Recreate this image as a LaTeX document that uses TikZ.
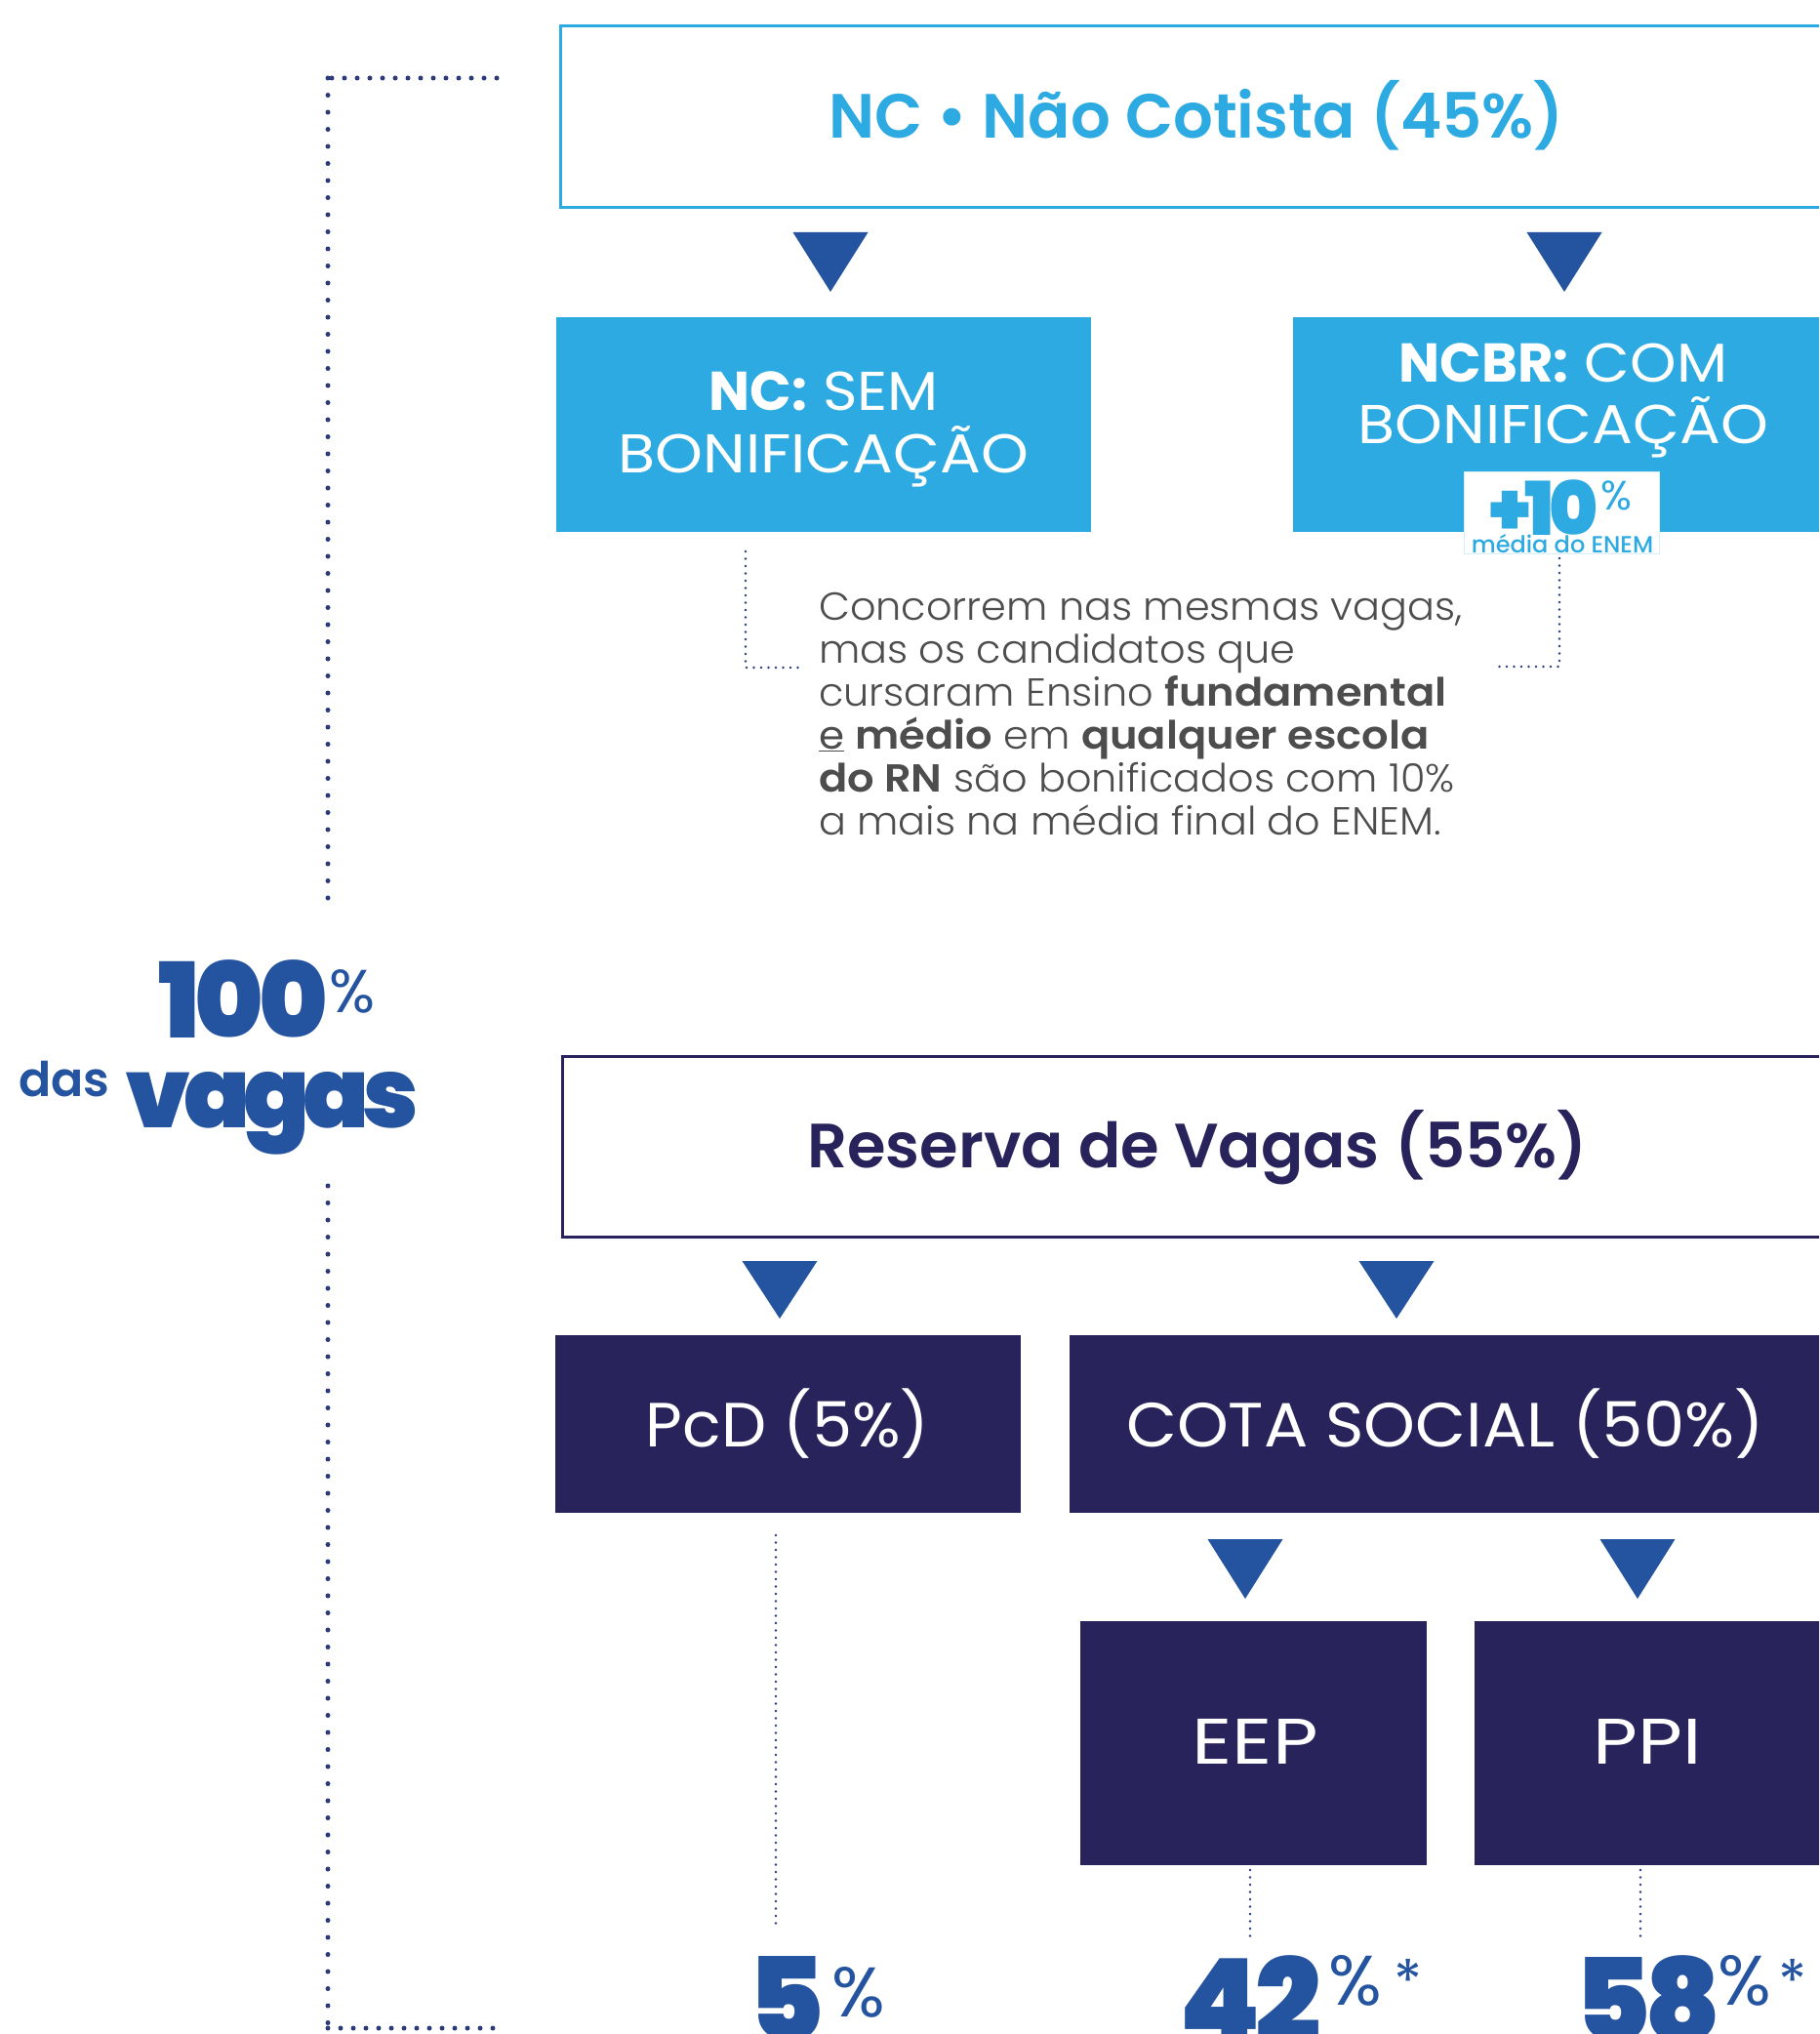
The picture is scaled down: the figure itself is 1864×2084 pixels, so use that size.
\documentclass[tikz,border=0pt]{standalone}
\usepackage{fontspec}
\newcommand\mkfont[2]{\IfFontExistsTF{#2}{\newfontfamily#1{#2}}{\newfontfamily#1{Poppins}}}
\mkfont\fLight{Poppins Light}
\mkfont\fReg{Poppins}
\mkfont\fMed{Poppins Medium}
\mkfont\fSemi{Poppins SemiBold}
\mkfont\fBold{Poppins Bold}
\mkfont\fBlack{Poppins Black}
\setmainfont{Poppins}
\definecolor{cyanc}{HTML}{2DAAE1}
\definecolor{navyc}{HTML}{29235C}
\definecolor{blueN}{HTML}{2453A0}
\definecolor{dotc}{HTML}{2B3A78}
\definecolor{grayt}{HTML}{4D4D4D}
\newcommand\downtri[3]{\fill[blueN] (#1-38.5,#2) -- (#1+38.5,#2) -- (#1,#3) -- cycle;}
\newcommand\tight[2]{{\addfontfeature{LetterSpace=#1}#2}}
\newcommand\wide[2]{{\addfontfeature{FakeStretch=#1}#2}}
\newcommand\pb[1]{{\fSemi\addfontfeature{FakeStretch=1.08}#1}}
\tikzset{
 boxline/.style={line width=3pt, inner sep=0pt, outer sep=0pt, anchor=north west},
 boxfill/.style={inner sep=0pt, outer sep=0pt, anchor=north west},
 bigdotsv/.style={draw=dotc, line width=5pt, line cap=round, dash pattern=on 0pt off 17.5pt},
 bigdotsh/.style={draw=dotc, line width=5pt, line cap=round, dash pattern=on 0pt off 13pt},
 smalldots/.style={draw=dotc, line width=2.8pt, line cap=round, dash pattern=on 0pt off 7.5pt},
 lbl/.style={anchor=base, inner sep=0pt},
 para/.style={anchor=base west, inner sep=0pt, text=grayt, font=\fLight\fontsize{40}{44}\selectfont\addfontfeature{FakeStretch=1.035}},
 bignum/.style={anchor=north west, inner sep=0pt, text=blueN},
}
\begin{document}
\begin{tikzpicture}[x=1pt,y=-1pt]
\useasboundingbox (0,0) rectangle (1864,2084);
\clip (0,0) rectangle (1864,2084);
\fill[white] (0,0) rectangle (1864,2084);

% ---------- NC part
\node[boxline, draw=cyanc, minimum width=1306pt, minimum height=186pt] (nc) at (574,27) {};
\node[lbl, text=cyanc, font=\fSemi\fontsize{64}{70}\selectfont] (nctitle) at (1226,142) {NC • Não Cotista (45\%)};

\downtri{851}{238}{299}
\downtri{1603}{238}{299}

\node[boxfill, fill=cyanc, minimum width=548pt, minimum height=220pt] (sem) at (570,325) {};
\node[boxfill, fill=cyanc, minimum width=560pt, minimum height=220pt] (com) at (1325,325) {};
\node[lbl, text=white, font=\fReg\fontsize{56}{60}\selectfont] (semA) at (844,420) {\wide{1.08}{{\fBold NC:} SEM}};
\node[lbl, text=white, font=\fReg\fontsize{56}{60}\selectfont] (semB) at (844,484) {\wide{1.11}{BONIFICAÇÃO}};
\node[lbl, text=white, font=\fReg\fontsize{56}{60}\selectfont] (comA) at (1602,391) {\wide{1.08}{{\fBold NCBR:} COM}};
\node[lbl, text=white, font=\fReg\fontsize{56}{60}\selectfont] (comB) at (1602,454) {\wide{1.11}{BONIFICAÇÃO}};

\node[boxfill, fill=white, draw=white!80!cyanc, line width=1pt, minimum width=200pt, minimum height=84pt] (bonus) at (1500,483) {};
\node[bignum, text=cyanc, font=\fBlack\fontsize{76}{76}\selectfont] (plus10) at (1526,492) {\tight{-7}{+10}};
\node[bignum, text=cyanc, font=\fReg\fontsize{42}{42}\selectfont] (plus10p) at (1640,493) {\%};
\node[lbl, text=cyanc, font=\fMed\fontsize{24}{24}\selectfont] (media) at (1601,566) {média do ENEM};

% paragraph
\node[para] (p1) at (839,635) {Concorrem nas mesmas vagas,};
\node[para] (p2) at (839,679) {mas os candidatos que};
\node[para] (p3) at (839,723) {cursaram Ensino \pb{fundamental}};
\node[para] (p4) at (839,767) {{\fReg\addfontfeature{FakeStretch=1.05}\underline{e}} \pb{médio} em \pb{qualquer escola}};
\node[para] (p5) at (839,811) {\pb{do RN} são bonificados com 10\%};
\node[para] (p6) at (839,855) {a mais na média final do ENEM.};

\coordinate (sl1) at (764,565);
\coordinate (sl2) at (764,684);
\coordinate (sl3) at (824,684);
\draw[smalldots] (sl1) -- (sl2) -- (sl3);
\coordinate (sr1) at (1598,572);
\coordinate (sr2) at (1598,683);
\coordinate (sr3) at (1534,683);
\draw[smalldots] (sr1) -- (sr2) -- (sr3);

% ---------- left bracket
\node[bignum, font=\fBlack\fontsize{107}{107}\selectfont] (hundred) at (162,983) {\tight{-5}{100}};
\node[bignum, font=\fReg\fontsize{62}{62}\selectfont] (hundredp) at (337,993) {\%};
\node[anchor=base west, inner sep=0pt, text=blueN, font=\fSemi\fontsize{49}{49}\selectfont] (das) at (19,1123) {das};
\node[anchor=base west, inner sep=0pt, text=blueN, font=\fBlack\fontsize{100}{100}\selectfont] (vagas) at (128,1155) {\tight{-7}{vagas}};

\coordinate (bt1) at (509,80);
\coordinate (bt2) at (336,80);
\coordinate (bt3) at (336,925);
\draw[bigdotsh] (bt1) -- (bt2);
\draw[bigdotsv] (bt2) -- (bt3);
\coordinate (bb1) at (336,1215);
\coordinate (bb2) at (336,2078);
\coordinate (bb3) at (516,2078);
\draw[bigdotsv] (bb1) -- (bb2);
\draw[bigdotsh] (bb2) -- (bb3);

% ---------- Reserva part
\node[boxline, draw=navyc, minimum width=1304pt, minimum height=185pt] (res) at (576,1082) {};
\node[lbl, text=navyc, font=\fSemi\fontsize{64}{70}\selectfont] (restitle) at (1227,1196) {Reserva de Vagas (55\%)};

\downtri{799}{1292}{1351}
\downtri{1431}{1292}{1351}

\node[boxfill, fill=navyc, minimum width=477pt, minimum height=182pt] (pcd) at (569,1368) {};
\node[boxfill, fill=navyc, minimum width=784pt, minimum height=182pt] (cota) at (1096,1368) {};
\node[lbl, text=white, font=\fReg\fontsize{64}{66}\selectfont] (pcdt) at (807,1482) {\wide{1.02}{PcD (5\%)}};
\node[lbl, text=white, font=\fReg\fontsize{64}{66}\selectfont] (cotat) at (1481,1482) {\wide{1.05}{COTA SOCIAL (50\%)}};

\downtri{1276}{1577}{1638}
\downtri{1678}{1577}{1638}

\node[boxfill, fill=navyc, minimum width=355pt, minimum height=250pt] (eep) at (1107,1661) {};
\node[boxfill, fill=navyc, minimum width=369pt, minimum height=250pt] (ppi) at (1511,1661) {};
\node[lbl, text=white, font=\fReg\fontsize{66}{66}\selectfont] (eept) at (1286,1807) {\wide{1.22}{EEP}};
\node[lbl, text=white, font=\fReg\fontsize{66}{66}\selectfont] (ppit) at (1688,1807) {\wide{1.2}{PPI}};

% bottom numbers
\node[bignum, font=\fBlack\fontsize{119}{119}\selectfont] (n5) at (766,2004) {5};
\node[bignum, font=\fReg\fontsize{72}{72}\selectfont] (n5p) at (852,2015) {\%};
\node[bignum, font=\fBlack\fontsize{119}{119}\selectfont] (n42) at (1208,2003) {\tight{-5}{42}};
\node[bignum, font=\fReg\fontsize{72}{72}\selectfont] (n42p) at (1361,2003) {\%};
\node[bignum, font=\fReg\fontsize{60}{60}\selectfont] (n42s) at (1428,2007) {*};
\node[bignum, font=\fBlack\fontsize{119}{119}\selectfont] (n58) at (1613,2003) {\tight{-5}{58}};
\node[bignum, font=\fReg\fontsize{72}{72}\selectfont] (n58p) at (1760,2003) {\%};
\node[bignum, font=\fReg\fontsize{60}{60}\selectfont] (n58s) at (1822,2007) {*};

\coordinate (d1a) at (795,1573); \coordinate (d1b) at (795,1973);
\draw[smalldots] (d1a) -- (d1b);
\coordinate (d2a) at (1281,1916); \coordinate (d2b) at (1281,1985);
\draw[smalldots] (d2a) -- (d2b);
\coordinate (d3a) at (1681,1916); \coordinate (d3b) at (1681,1985);
\draw[smalldots] (d3a) -- (d3b);
\end{tikzpicture}
\end{document}
